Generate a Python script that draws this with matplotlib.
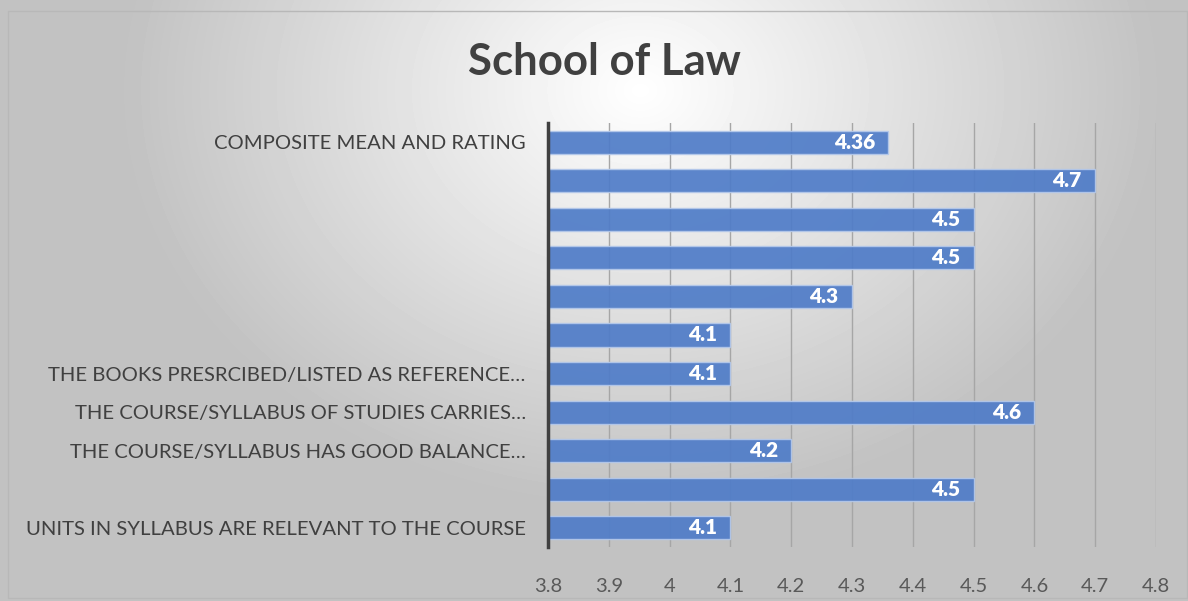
import matplotlib
matplotlib.use("Agg")
import matplotlib.pyplot as plt
import numpy as np
from matplotlib.patches import Rectangle
from matplotlib.ticker import FixedLocator, FuncFormatter

plt.rcParams["font.family"] = ["Lato", "DejaVu Sans"]

# bottom -> top, as drawn by the horizontal bar chart
labels = [
    "UNITS IN SYLLABUS ARE RELEVANT TO THE COURSE",
    "",
    "THE COURSE/SYLLABUS HAS GOOD BALANCE…",
    "THE COURSE/SYLLABUS OF STUDIES CARRIES…",
    "THE BOOKS PRESRCIBED/LISTED AS REFERENCE…",
    "",
    "",
    "",
    "",
    "",
    "COMPOSITE MEAN AND RATING",
]
values = [4.1, 4.5, 4.2, 4.6, 4.1, 4.1, 4.3, 4.5, 4.5, 4.7, 4.36]
value_text = ["4.1", "4.5", "4.2", "4.6", "4.1", "4.1", "4.3", "4.5", "4.5", "4.7", "4.36"]
x_ticks = [3.8, 3.9, 4.0, 4.1, 4.2, 4.3, 4.4, 4.5, 4.6, 4.7, 4.8]

BASE = 3.8
TEXT = "#404040"

fig = plt.figure(figsize=(11.88, 6.01), dpi=100)

# radial grey background
bg = fig.add_axes([0, 0, 1, 1], zorder=-10)
h, w = 601, 1188
yy, xx = np.mgrid[0:h, 0:w]
d = np.sqrt(((xx - 640) / 650.0) ** 2 + ((yy - 90) / 520.0) ** 2)
shade = np.clip(1.0 - 0.3 * d, 0.76, 1.0)
bg.imshow(shade, cmap="gray", vmin=0, vmax=1, aspect="auto", extent=[0, 1, 0, 1])
bg.axis("off")
fig.patches.append(Rectangle((8 / w, 3 / h), 1 - 9 / w, 1 - 14 / h, transform=fig.transFigure,
                             fill=False, edgecolor="#b8b8b8", lw=1.0))

ax = fig.add_axes([548 / w, 1 - 547 / h, 608 / w, (547 - 123) / h])
ax.set_facecolor("none")
y = np.arange(len(values))
ax.barh(y, [v - BASE for v in values], left=BASE, height=0.6,
        color="#4f7cc8", alpha=0.92, edgecolor="#b4c8ea", linewidth=1.0, zorder=3)
for yi, v, t in zip(y, values, value_text):
    ax.text(v - 0.022, yi, t, ha="right", va="center", color="white",
            fontsize=15, fontweight="heavy", zorder=4)

ax.set_xlim(BASE, 4.8)
ax.set_ylim(-0.5, len(values) - 0.5)
ax.xaxis.set_major_locator(FixedLocator(x_ticks))
ax.xaxis.set_major_formatter(FuncFormatter(lambda v, p: f"{v:g}"))
ax.set_yticks(y)
ax.set_yticklabels(labels)
ax.grid(axis="x", color="#a6a6a6", lw=1.0, zorder=0)
ax.tick_params(axis="x", length=0, pad=22, labelsize=14.5, labelcolor="#595959")
ax.tick_params(axis="y", length=0, pad=16, labelsize=14.6, labelcolor=TEXT)
for s in ["top", "right", "bottom"]:
    ax.spines[s].set_visible(False)
ax.spines["left"].set_color(TEXT)
ax.spines["left"].set_linewidth(2.5)
ax.spines["left"].set_zorder(5)

fig.text(604 / w, 1 - 62 / h, "School of Law", ha="center", va="center",
         fontsize=31.5, fontweight="bold", color=TEXT)

fig.savefig("out.png", dpi=100)
